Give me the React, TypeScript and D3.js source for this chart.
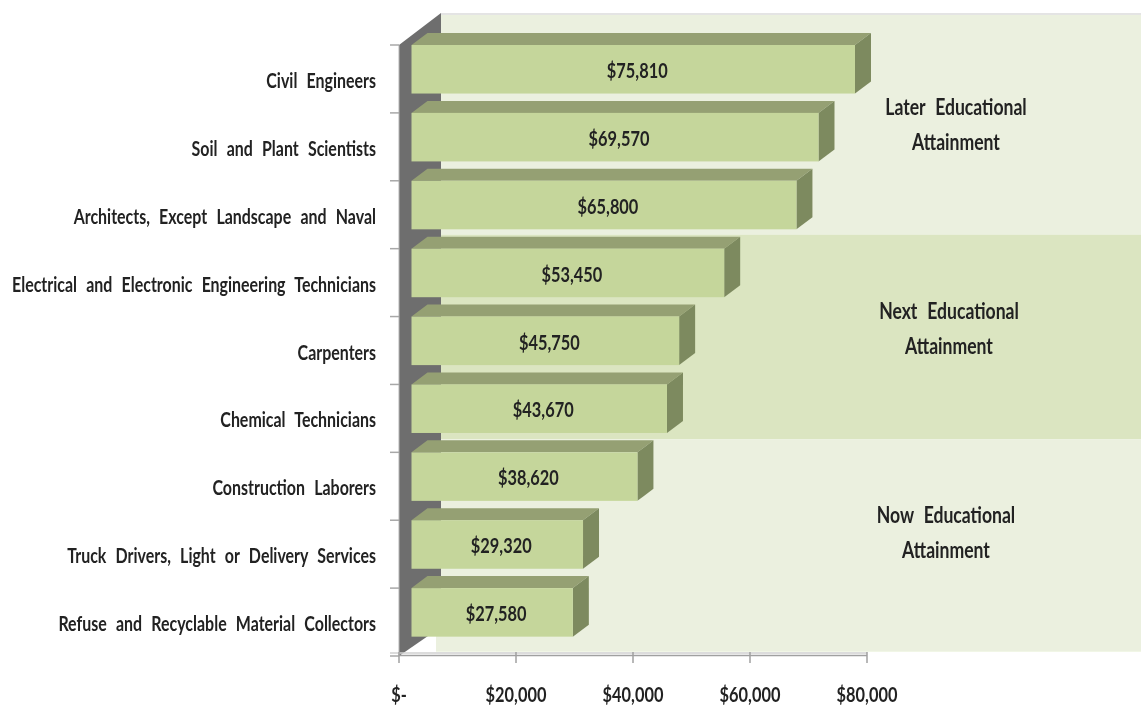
import React from 'react';
import * as d3 from 'd3';

const categories = [
  'Civil Engineers',
  'Soil and Plant Scientists',
  'Architects, Except Landscape and Naval',
  'Electrical and Electronic Engineering Technicians',
  'Carpenters',
  'Chemical Technicians',
  'Construction Laborers',
  'Truck Drivers, Light or Delivery Services',
  'Refuse and Recyclable Material Collectors',
];
const wages = [75810, 69570, 65800, 53450, 45750, 43670, 38620, 29320, 27580];
const xTicks = [0, 20000, 40000, 60000, 80000];
const groupLines = [
  ['Later Educational', 'Attainment'],
  ['Next Educational', 'Attainment'],
  ['Now Educational', 'Attainment'],
];

const W = 1141;
const H = 707;
const depthX = 16;
const depthY = 12;
const wallX = 12.5; // front of the bars sits this far right of the axis zero
const font = 'Lato, sans-serif';

const x = d3.scaleLinear().domain([0, 80000]).range([399, 867]);
const y = d3.scaleBand<string>().domain(categories).range([45, 656]).align(0);
const barH = y.bandwidth() * 0.715;
const money = (v: number) => (v === 0 ? '$-' : d3.format('$,')(v));

// squeezed text, the original is a condensed humanist face
const Label = ({ tx, ty, anchor = 'middle', children, sx = 0.76, size = 21 }: any) => (
  <text
    transform={`translate(${tx},${ty}) scale(${sx},1)`}
    textAnchor={anchor}
    fontFamily={font}
    fontSize={size}
    fontWeight={700}
    wordSpacing={7}
    fill="#222"
  >
    {children}
  </text>
);

const App = () => {
  const rows = categories.map((c, i) => ({ c, v: wages[i], top: y(c) as number }));
  const panelEdges = [15, y(categories[3])! - 14, y(categories[6])! - 13, 651];
  const panelFill = ['#ebf0df', '#dbe5c1', '#ebf0df'];
  const groupX = [956, 949, 946];
  const groupY = [107, 311, 515];

  return (
    <svg
      width={W}
      height={H}
      style={{ position: 'absolute', left: 0, top: 0, background: '#fff' }}
    >
      <defs>
        <filter id="soft" x="0" y="0" width="100%" height="100%">
          <feGaussianBlur stdDeviation="0.55" />
        </filter>
      </defs>
      <g filter="url(#soft)">
        <rect x={441} y={13} width={W - 441} height={2} fill="#e4e4e4" />
        {panelFill.map((fill, i) => (
          <rect
            key={i}
            x={i === 2 ? 436 : 441}
            y={panelEdges[i]}
            width={W - 436}
            height={panelEdges[i + 1] - panelEdges[i]}
            fill={fill}
          />
        ))}
        <rect x={436} y={651} width={W - 436} height={1} fill="#f1f6e6" />

        {/* side wall */}
        <path d="M399,45L441,13V627L399,656Z" fill="#6e6e6e" />
        <line x1={399} x2={399} y1={45} y2={656} stroke="#b5b5b5" strokeWidth={1} />
        {d3.range(categories.length + 1).map((i) => {
          const ty = 45 + i * y.step();
          return <line key={i} x1={390} x2={399} y1={ty} y2={ty} stroke="#a8a8a8" strokeWidth={1.5} />;
        })}

        {/* floor axis */}
        <line x1={390} x2={867} y1={653} y2={653} stroke="#d0d0d0" strokeWidth={1.5} />
        <line x1={399} x2={867} y1={655.5} y2={655.5} stroke="#a0a0a0" strokeWidth={1.5} />
        {xTicks.map((t) => (
          <line key={t} x1={x(t)} x2={x(t)} y1={652} y2={663} stroke="#a0a0a0" strokeWidth={1.5} />
        ))}

        {/* bars */}
        {rows.map(({ c, v, top }) => {
          const x0 = x(0) + wallX;
          const x1 = x(v) + wallX;
          const bottom = top + barH;
          return (
            <g key={c}>
              <path
                d={`M${x0},${top}L${x0 + depthX},${top - depthY}H${x1 + depthX}L${x1},${top}Z`}
                fill="#95a073"
              />
              <path
                d={`M${x1},${top}L${x1 + depthX},${top - depthY}V${bottom - depthY}L${x1},${bottom}Z`}
                fill="#7d8a5e"
              />
              <rect x={x0} y={top} width={x1 - x0} height={barH} fill="#c5d69b" />
            </g>
          );
        })}

        {rows.map(({ c, v, top }) => (
          <g key={c}>
            <Label tx={376} ty={top + 43} anchor="end">{c}</Label>
            <Label tx={(x(0) + x(v)) / 2 + wallX + 4} ty={top + 33} sx={0.78} size={21}>{money(v)}</Label>
          </g>
        ))}

        {xTicks.map((t) => (
          <Label key={t} tx={x(t)} ty={702} sx={0.78} size={21}>{money(t)}</Label>
        ))}

        {groupLines.map((lines, i) =>
          lines.map((l, j) => (
            <Label key={l + i} tx={groupX[i]} ty={groupY[i] + 8 + j * 35} sx={0.8} size={22}>{l}</Label>
          )),
        )}
      </g>
    </svg>
  );
};

export default App;
